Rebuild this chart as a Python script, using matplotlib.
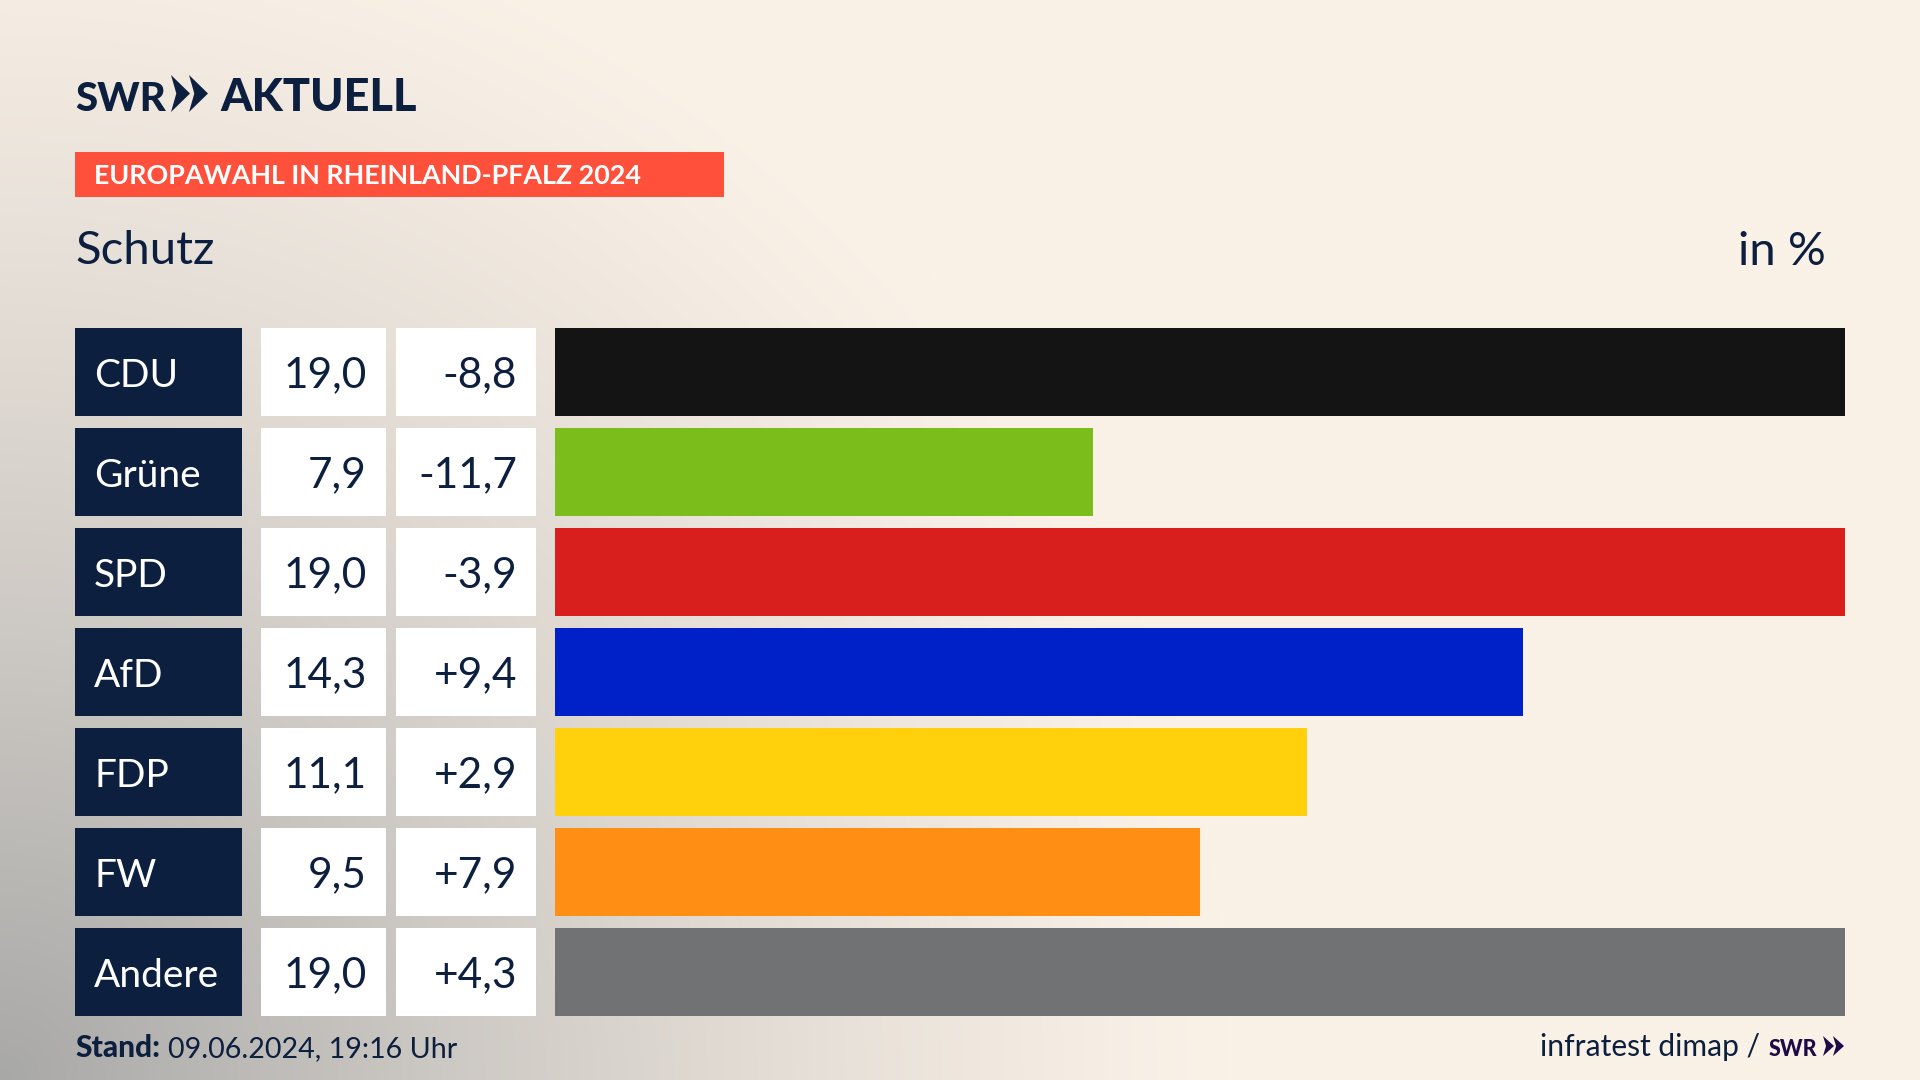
import numpy as np
import matplotlib
matplotlib.use('Agg')
import matplotlib.pyplot as plt
from matplotlib.patches import Rectangle, Polygon

parties = ['CDU', 'Grüne', 'SPD', 'AfD', 'FDP', 'FW', 'Andere']
shares = [19.0, 7.93, 19.0, 14.25, 11.07, 9.5, 19.0]
share_labels = ['19,0', '7,9', '19,0', '14,3', '11,1', '9,5', '19,0']
diff_labels = ['-8,8', '-11,7', '-3,9', '+9,4', '+2,9', '+7,9', '+4,3']
bar_colors = ['#141414', '#7BBD1B', '#D81F1E', '#0021C8', '#FFD00B', '#FF8E15', '#717274']

NAVY = '#0C1F3F'
FONT = 'Lato'

fig = plt.figure(figsize=(19.2, 10.8), dpi=100)

# whole picture in pixel coordinates, y going down
ax = fig.add_axes([0, 0, 1, 1])
ax.set_xlim(0, 1920)
ax.set_ylim(1080, 0)
ax.axis('off')

# background: cream fading to grey towards bottom left
gx, gy = np.meshgrid(np.linspace(0, 1, 960), np.linspace(0, 1, 540))
dist = np.sqrt((gx / 0.64) ** 2 + ((1 - gy) / 1.14) ** 2)
t = np.clip(1 - dist, 0, 1) ** 1.3
cream = np.array([250, 241, 231]) / 255
grey = np.array([168, 168, 167]) / 255
bg = cream + (grey - cream) * t[..., None]
ax.imshow(bg, extent=[0, 1920, 1080, 0], aspect='auto', zorder=0, interpolation='bilinear')


def chevrons(x, top, bottom, w, gap, color):
    mid = (top + bottom) / 2
    for i in range(2):
        x0 = x + i * gap
        ax.add_patch(Polygon([(x0, top), (x0 + w, mid), (x0, bottom), (x0 + w * 0.28, mid)],
                             closed=True, fc=color, ec='none', zorder=3))


# header
ax.text(75, 111, 'SWR', family=FONT, weight='black', fontsize=29, color=NAVY, va='baseline')
chevrons(171, 75, 112, 19, 18, NAVY)
ax.text(220, 111, 'AKTUELL', family=FONT, weight='black', fontsize=32.5, color=NAVY, va='baseline')

ax.add_patch(Rectangle((75, 152), 649, 45, fc='#FF503C', ec='none', zorder=2))
ax.text(94, 184, 'EUROPAWAHL IN RHEINLAND-PFALZ 2024', family=FONT, weight='bold',
        fontsize=19.4, color='white', va='baseline', zorder=3)

ax.text(75, 264, 'Schutz', family=FONT, fontsize=34, color=NAVY, va='baseline')
ax.text(1826, 265, 'in %', family=FONT, fontsize=34, color=NAVY, va='baseline', ha='right')

# table cells left of the bars
for i, party in enumerate(parties):
    top = 328 + i * 100
    ax.add_patch(Rectangle((75, top), 167, 88, fc=NAVY, ec='none', zorder=2))
    ax.add_patch(Rectangle((261, top), 125, 88, fc='white', ec='none', zorder=2))
    ax.add_patch(Rectangle((396, top), 140, 88, fc='white', ec='none', zorder=2))
    ax.text(94, top + 59, party, family=FONT, fontsize=28, color='white', va='baseline', zorder=3)
    ax.text(367, top + 59, share_labels[i], family=FONT, fontsize=30.5, color=NAVY,
            va='baseline', ha='right', zorder=3)
    ax.text(517, top + 59, diff_labels[i], family=FONT, fontsize=30.5, color=NAVY,
            va='baseline', ha='right', zorder=3)

# footer
ax.text(75, 1057, 'Stand:', family=FONT, weight='black', fontsize=21.5, color=NAVY, va='baseline')
ax.text(168, 1057, '09.06.2024, 19:16 Uhr', family=FONT, fontsize=20.6, color=NAVY, va='baseline')
ax.text(1760, 1056, 'infratest dimap /', family=FONT, fontsize=21.6, color=NAVY,
        va='baseline', ha='right')
ax.text(1769, 1056, 'SWR', family=FONT, weight='black', fontsize=15.5, color='#1E0A46', va='baseline')
chevrons(1823, 1036, 1056, 11, 10, '#1E0A46')

# bars, full width is 19 %
ax_bars = fig.add_axes([555 / 1920, 1 - 1022 / 1080, 1290 / 1920, 700 / 1080])
ax_bars.patch.set_alpha(0)
ypos = np.arange(len(parties))
ax_bars.barh(ypos, shares, height=0.885, color=bar_colors)
ax_bars.set_xlim(0, 19)
ax_bars.set_ylim(len(parties) - 0.5, -0.5)
ax_bars.axis('off')

fig.savefig('out.png', dpi=100)
